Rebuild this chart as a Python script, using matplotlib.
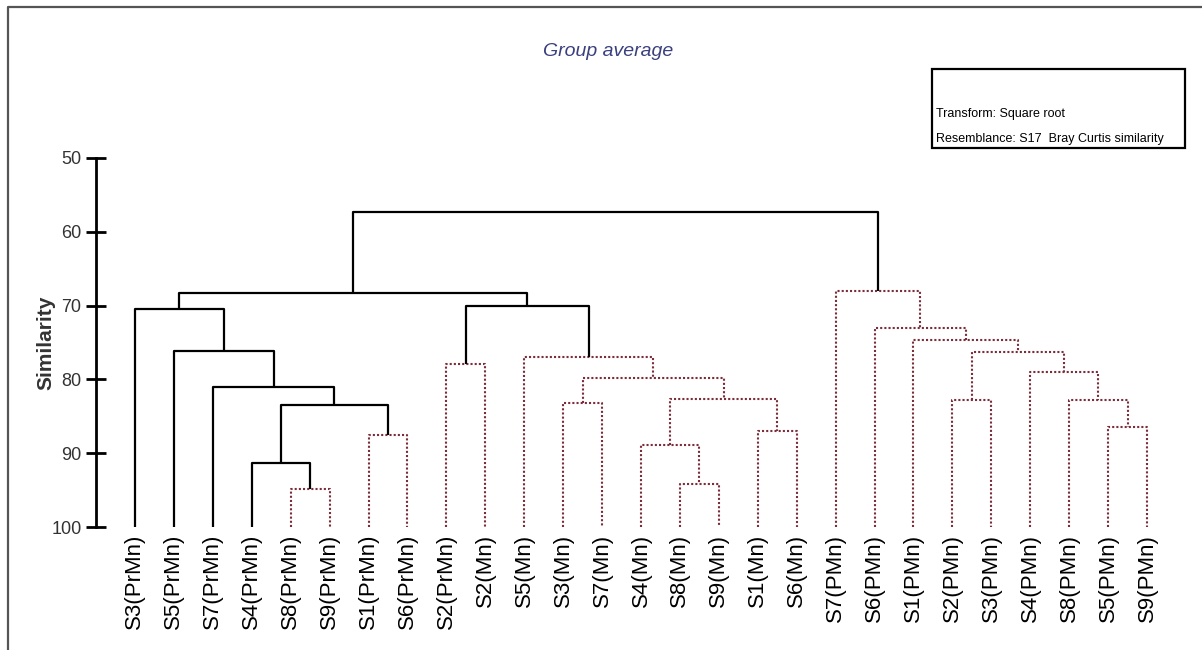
import matplotlib
matplotlib.use("Agg")
import matplotlib.pyplot as plt
from matplotlib.lines import Line2D
from matplotlib.patches import Rectangle

# leaves in plotted order (left to right)
leaves = ["S3(PrMn)", "S5(PrMn)", "S7(PrMn)", "S4(PrMn)", "S8(PrMn)", "S9(PrMn)",
          "S1(PrMn)", "S6(PrMn)", "S2(PrMn)", "S2(Mn)", "S5(Mn)", "S3(Mn)", "S7(Mn)",
          "S4(Mn)", "S8(Mn)", "S9(Mn)", "S1(Mn)", "S6(Mn)", "S7(PMn)", "S6(PMn)",
          "S1(PMn)", "S2(PMn)", "S3(PMn)", "S4(PMn)", "S8(PMn)", "S5(PMn)", "S9(PMn)"]

# merges: cluster ids continue after the leaves (27, 28, ...)
merge_left = [4, 3, 6, 28, 2, 1, 0, 8, 14, 13, 16, 36, 11, 39, 10, 34, 33,
              25, 24, 23, 21, 47, 20, 19, 18, 43]
merge_right = [5, 27, 7, 29, 30, 31, 32, 9, 15, 35, 17, 37, 12, 38, 40, 41, 42,
               26, 44, 45, 22, 46, 48, 49, 50, 51]
merge_similarity = [94.9, 91.3, 87.5, 83.5, 81.0, 76.1, 70.4, 77.9, 94.2, 88.9, 87.0,
                    82.7, 83.2, 79.8, 77.0, 70.0, 68.3, 86.5, 82.8, 79.0, 82.8, 76.3,
                    74.6, 73.1, 68.0, 57.3]
# SIMPROF: True = significant (solid black), False = red dotted
merge_significant = [False, True, False, True, True, True, True, False, False, False,
                     False, False, False, False, False, True, True, False, False, False,
                     False, False, False, False, False, True]

font = ["Liberation Sans", "DejaVu Sans"]

fig = plt.figure(figsize=(12.02, 6.5), dpi=100)
ax = fig.add_axes([96 / 1202, 123 / 650, 1090 / 1202, 369 / 650])

n = len(leaves)
xpos = {i: float(i) for i in range(n)}
ypos = {i: 100.0 for i in range(n)}

for k, (a, b, h, sig) in enumerate(zip(merge_left, merge_right, merge_similarity, merge_significant)):
    cid = n + k
    xa, xb = xpos[a], xpos[b]
    if sig:
        ax.plot([xa, xa, xb, xb], [ypos[a], h, h, ypos[b]], color="black", lw=1.6,
                solid_capstyle="butt", zorder=3)
    else:
        ax.plot([xa, xa, xb, xb], [ypos[a], h, h, ypos[b]], color="#7b2d3b", lw=1.5,
                linestyle=(0, (1, 1)), zorder=2)
    xpos[cid] = (xa + xb) / 2
    ypos[cid] = h

ax.set_xlim(-1.0, 27.0)
ax.set_ylim(100, 50)
ax.set_yticks([50, 60, 70, 80, 90, 100])
ax.set_xticks(range(n))
ax.set_xticklabels(leaves, rotation=90, fontsize=16, family=font)
ax.tick_params(axis="x", length=0, pad=5)
ax.tick_params(axis="y", direction="inout", length=15, width=2, labelsize=13, pad=3)
for t in ax.get_yticklabels():
    t.set_family(font)
    t.set_color("#333333")

for s in ["top", "right", "bottom"]:
    ax.spines[s].set_visible(False)
ax.spines["left"].set_linewidth(2)

ax.set_ylabel("Similarity", fontsize=15, fontweight="bold", color="#333333", family=font)
ax.yaxis.set_label_coords(-0.037, 0.5)

fig.text(608 / 1202, 1 - 51 / 650, "Group average", fontsize=14, style="italic",
         color="#3a3f7e", ha="center", va="center", family=font)

# info box
fig.patches.append(Rectangle((932 / 1202, 1 - 148 / 650), 253 / 1202, 79 / 650,
                             transform=fig.transFigure, fill=False, edgecolor="black", lw=1.6))
fig.text(936 / 1202, 1 - 117 / 650, "Transform: Square root", fontsize=9,
         ha="left", va="baseline", family=font)
fig.text(936 / 1202, 1 - 142 / 650, "Resemblance: S17  Bray Curtis similarity", fontsize=9,
         ha="left", va="baseline", family=font)

# outer frame (top and left edges of the cropped figure)
fig.lines.append(Line2D([8 / 1202, 8 / 1202, 1.0], [0.0, 1 - 7 / 650, 1 - 7 / 650],
                        transform=fig.transFigure, color="#555555", lw=1.6))

fig.savefig("out.png", dpi=100)
